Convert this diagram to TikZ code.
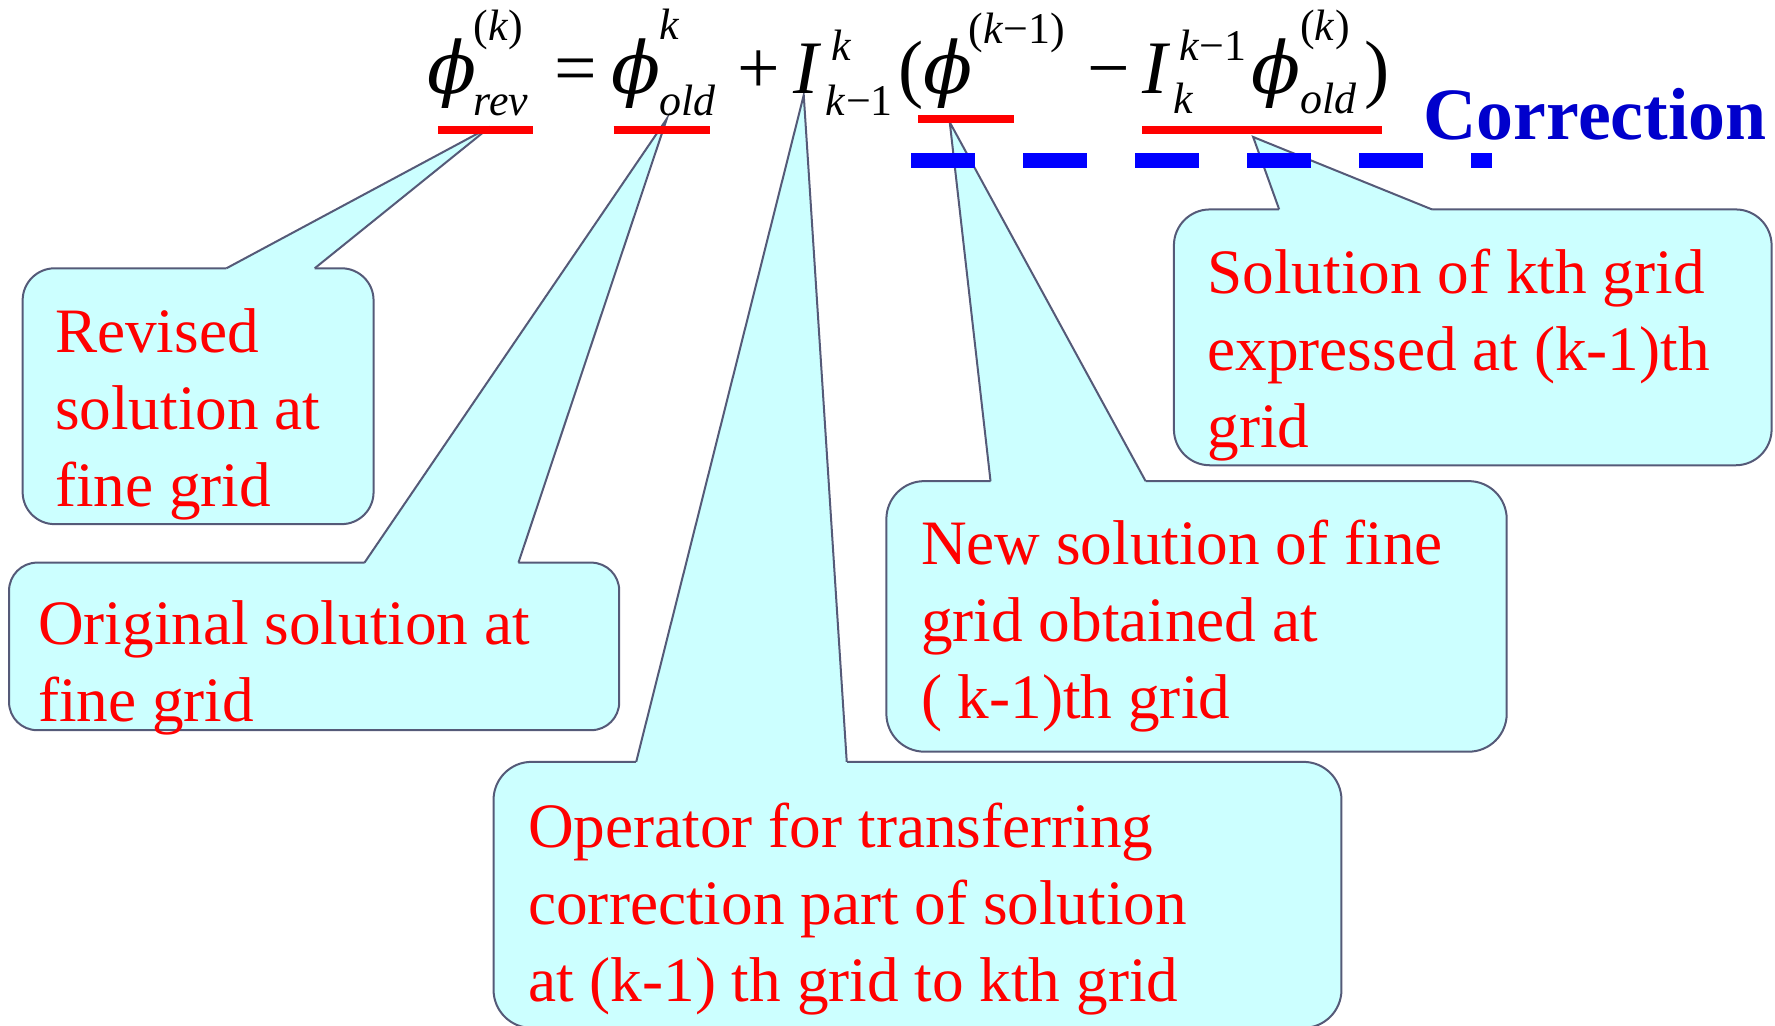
\documentclass[tikz,border=0pt]{standalone}
\usepackage{fontspec}
\setmainfont{Liberation Serif}
\newfontfamily\phifont{DejaVu Serif}
\usepackage{tikz}
\usetikzlibrary{positioning,fit,calc}
\usepackage{xcolor}
\definecolor{calloutcyan}{RGB}{204,255,255}
\definecolor{calloutedge}{RGB}{85,90,120}
\definecolor{corrblue}{RGB}{0,0,204}
\tikzset{
    callbox/.style={
        rectangle,
        draw=calloutedge,
        fill=calloutcyan,
        line width=0.57pt,
        inner sep=0pt,
        rounded corners=0.34cm
    },
    tailfill/.style={
        fill=calloutcyan
    },
    tailline/.style={
        draw=calloutedge,
        line width=0.57pt
    },
    calltext/.style={
        text=red,
        font=\fontsize{18pt}{21.9pt}\selectfont,
        align=left,
        inner sep=0pt,
        anchor=base west
    },
    eqbig/.style={
        font=\fontsize{21.5pt}{24pt}\selectfont,
        inner sep=0pt,
        anchor=base west
    },
    eqphi/.style={
        eqbig,
        font=\fontsize{20.5pt}{24pt}\phifont\itshape
    },
    eqsmall/.style={
        font=\fontsize{12.5pt}{14pt}\selectfont,
        inner sep=0pt,
        anchor=base west
    },
    underbar/.style={
        red,
        line width=0.08cm
    },
    corrline/.style={
        blue,
        line width=0.15cm,
        dash pattern=on 0.64cm off 0.48cm
    },
    corrlabel/.style={
        text=corrblue,
        font=\fontsize{21pt}{24pt}\selectfont\bfseries,
        inner sep=0pt,
        anchor=base west
    }
}

\begin{document}
\begin{tikzpicture}[x=0.01132cm, y=-0.01132cm]
    \useasboundingbox (0,0) rectangle (1568,906);

    % Tips of the callouts
    \coordinate (revtip) at (433,112);
    \coordinate (origtip) at (589,105);
    \coordinate (opertip) at (710,84);
    \coordinate (newtip) at (839,108);
    \coordinate (kthtip) at (1107,121);

    % Callout: revised solution (text anchored on its last line)
    \node[callbox, fit={(20,237) (330,463)}, rounded corners=0.32cm] (revbox) {};
    \coordinate (revA) at (200,237);
    \coordinate (revB) at (278,237);
    \fill[tailfill] (revA) -- (revtip) -- (revB) -- ([yshift=-0.6pt]revB) -- ([yshift=-0.6pt]revA) -- cycle;
    \draw[tailline] (revA) -- (revtip) -- (revB);
    \node[calltext] (revtext) at (48,447) {Revised\\solution at\\fine grid};

    % Callout: original solution
    \node[callbox, fit={(8,497) (547,645)}, rounded corners=0.28cm] (origbox) {};
    \coordinate (origA) at (322,497);
    \coordinate (origB) at (458,497);
    \fill[tailfill] (origA) -- (origtip) -- (origB) -- ([yshift=-0.6pt]origB) -- ([yshift=-0.6pt]origA) -- cycle;
    \draw[tailline] (origA) -- (origtip) -- (origB);
    \node[calltext] (origtext) at (33,637) {Original solution at\\fine grid};

    % Callout: transfer operator
    \node[callbox, fit={(436,673) (1185,908)}, rounded corners=0.38cm] (operbox) {};
    \coordinate (operA) at (562,673);
    \coordinate (operB) at (748,673);
    \fill[tailfill] (operA) -- (opertip) -- (operB) -- ([yshift=-0.6pt]operB) -- ([yshift=-0.6pt]operA) -- cycle;
    \draw[tailline] (operA) -- (opertip) -- (operB);
    \node[calltext] (opertext) at (466,885) {Operator for transferring\\correction part of solution\\at (k-1) th grid to kth grid};

    % Callout: new solution
    \node[callbox, fit={(783,425) (1331,664)}, rounded corners=0.38cm] (newbox) {};
    \coordinate (newA) at (875,425);
    \coordinate (newB) at (1012,425);
    \fill[tailfill] (newA) -- (newtip) -- (newB) -- ([yshift=-0.6pt]newB) -- ([yshift=-0.6pt]newA) -- cycle;
    \draw[tailline] (newA) -- (newtip) -- (newB);
    \node[calltext] (newtext) at (813,635) {New solution of fine\\grid obtained at\\( k-1)th grid};

    % Callout: kth grid solution
    \node[callbox, fit={(1037,185) (1565,411)}, rounded corners=0.36cm] (kthbox) {};
    \coordinate (kthA) at (1130,185);
    \coordinate (kthB) at (1265,185);
    \fill[tailfill] (kthA) -- (kthtip) -- (kthB) -- ([yshift=-0.6pt]kthB) -- ([yshift=-0.6pt]kthA) -- cycle;
    \draw[tailline] (kthA) -- (kthtip) -- (kthB);
    \node[calltext] (kthtext) at (1066,395) {Solution of kth grid\\expressed at (k-1)th\\grid};

    % Equation
    \node[eqphi] (phirev) at (377,83) {ϕ};
    \node[eqsmall] (revsup) at (418,36) {(\textit{k})};
    \node[eqsmall] (revsub) at (418,102) {\textit{rev}};
    \node[eqbig] (eqsign) at (489,83) {=};
    \node[eqphi] (phiold) at (540,83) {ϕ};
    \node[eqsmall] (oldsup) at (582,35) {\textit{k}};
    \node[eqsmall] (oldsub) at (582,102) {\textit{old}};
    \node[eqbig] (plus) at (651,83) {+};
    \node[eqbig] (opI) at (700,83) {\textit{I}};
    \node[eqsmall] (opsup) at (734,53) {\textit{k}};
    \node[eqsmall] (opsub) at (729,102) {\textit{k}−1};
    \node[eqbig] (lparen) at (793,83) {(};
    \node[eqphi] (phinew) at (815,83) {ϕ};
    \node[eqsmall] (newsup) at (855,38) {(\textit{k}−1)};
    \node[eqbig] (minus) at (960,83) {−};
    \node[eqbig] (resI) at (1009,83) {\textit{I}};
    \node[eqsmall] (ressup) at (1041,53) {\textit{k}−1};
    \node[eqsmall] (ressub) at (1036,100) {\textit{k}};
    \node[eqphi] (phires) at (1105,83) {ϕ};
    \node[eqsmall] (phisup) at (1148,36) {(\textit{k})};
    \node[eqsmall] (phisub) at (1148,100) {\textit{old}};
    \node[eqbig] (rparen) at (1205,83) {)};

    % Underlines
    \draw[underbar] (387,114.5) -- (471,114.5);
    \draw[underbar] (542,114.5) -- (627,114.5);
    \draw[underbar] (811,105.5) -- (896,105.5);
    \draw[underbar] (1009,114.5) -- (1221,114.5);

    % Correction marker
    \coordinate (corrL) at (805,142);
    \coordinate (corrR) at (1318,142);
    \draw[corrline] (corrL) -- (corrR);
    \node[corrlabel] (corrtext) at (1257,123) {Correction};
\end{tikzpicture}
\end{document}
